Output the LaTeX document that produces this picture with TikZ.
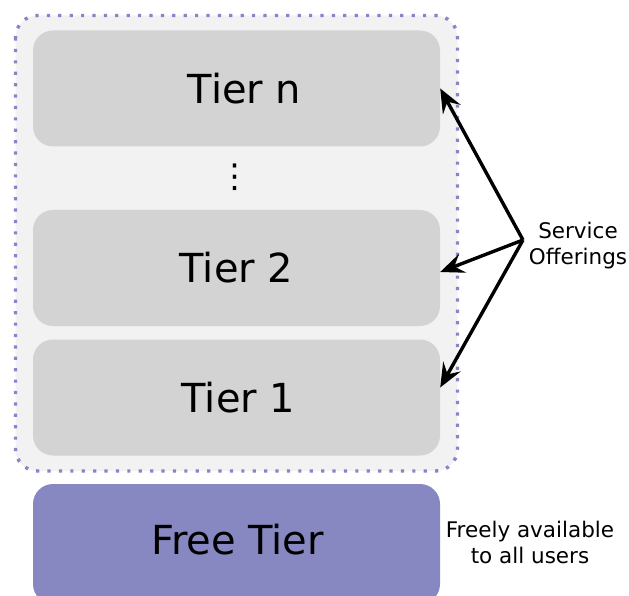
\documentclass[tikz,border=0pt]{standalone}
\usepackage{fontspec}
\setmainfont{DejaVu Sans}
\usetikzlibrary{arrows.meta,calc}
\definecolor{panelfill}{HTML}{F2F2F2}
\definecolor{tierfill}{HTML}{D3D3D3}
\definecolor{freefill}{HTML}{8787C1}
\definecolor{dotline}{HTML}{8585C8}
\tikzset{
  tierbox/.style={draw=none, fill=tierfill, rounded corners=20pt,
    minimum width=407pt, minimum height=116pt, inner sep=0pt,
    font=\fontsize{40}{48}\selectfont},
  freebox/.style={tierbox, fill=freefill, minimum height=116pt},
  sidenote/.style={align=center, inner sep=0pt,
    font=\fontsize{21.5}{26}\selectfont},
  offer/.style={-{Stealth[length=24pt,width=20pt,inset=9pt]}, line width=3.4pt, black}
}
\begin{document}
\begin{tikzpicture}[x=1pt,y=-1pt]
  \useasboundingbox (0,0) rectangle (629,596);
  \clip (0,0) rectangle (629,596);
  % dotted panel holding the paid tiers
  \draw[fill=panelfill, draw=dotline, line width=3.4pt,
        dash pattern=on 3.2pt off 8.2pt, rounded corners=22pt]
    (15.5,15.5) rectangle (457.5,471);
  \node[tierbox] (tn) at (236.5,88.5) {\hspace*{16pt}Tier n};
  \node[font=\fontsize{33}{40}\selectfont, inner sep=0pt] (dots) at (235,177) {⋮};
  \node[tierbox] (t2) at (236.5,268) {Tier 2};
  \node[tierbox] (t1) at (236.5,397.5) {\hspace*{4pt}Tier 1};
  \node[freebox, minimum height=120pt] (free) at (236.5,544) {};
  \node[font=\fontsize{40}{48}\selectfont, inner sep=0pt] (freelbl) at (237.5,540) {Free Tier};
  % service offering labels and arrows
  \coordinate (src) at (523,240);
  \node[sidenote] (svc) at (578,246) {Service\\Offerings};
  \node[sidenote] (freely) at (530,542) {Freely available\\to all users};
  \draw[offer] (src) -- (tn.east);
  \draw[offer] (src) -- ([yshift=-4pt]t2.east);
  \draw[offer] (src) -- ([yshift=10pt]t1.east);
\end{tikzpicture}
\end{document}
